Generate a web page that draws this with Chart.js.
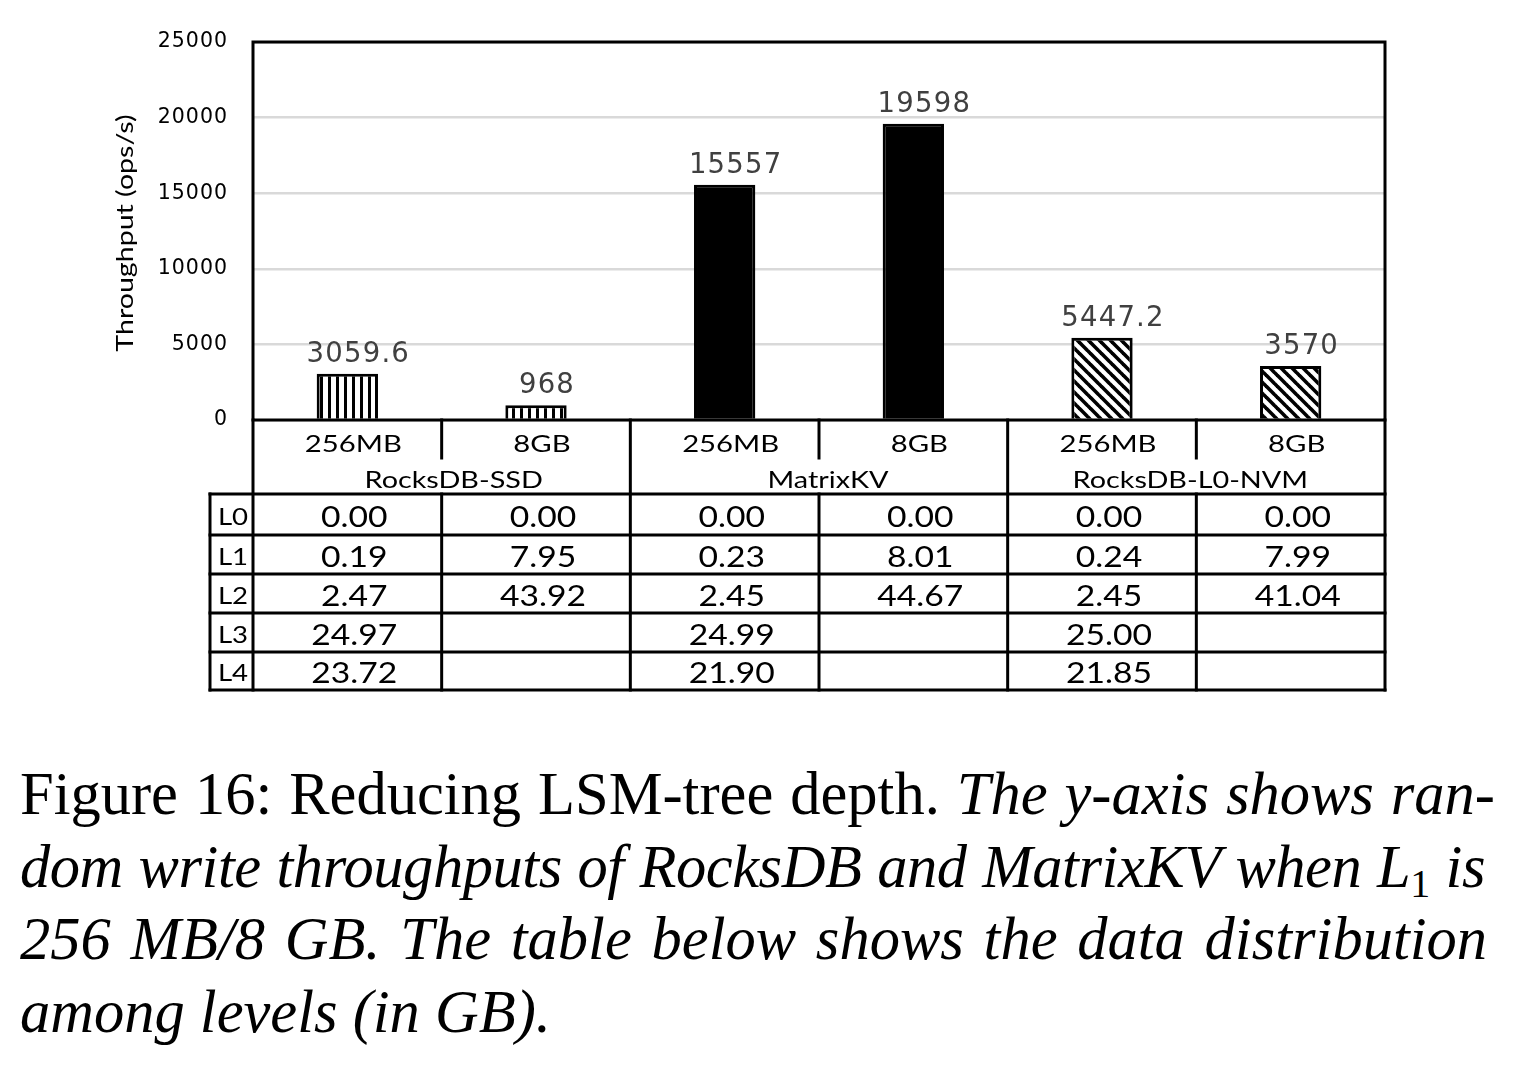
<!DOCTYPE html>
<html>
<head>
<meta charset="utf-8">
<script src="https://cdn.jsdelivr.net/npm/chart.js@4/dist/chart.umd.min.js"></script>
<style>
  html, body { margin: 0; padding: 0; background: #fff; }
  body { width: 1524px; height: 1069px; position: relative; overflow: hidden; }
  #wrap { position: absolute; left: 0; top: 0; width: 1524px; height: 720px; }
  #caption { position: absolute; left: 20px; top: 758px; width: 1475px;
    font-family: "Liberation Serif", "Times New Roman", serif; font-size: 60.5px; line-height: 72.5px; color: #000; }
  #caption .ln { text-align: justify; text-align-last: justify; white-space: nowrap; }
  #caption .ln.last { text-align-last: left; }
  #caption i { font-style: italic; }
  #caption sub { font-style: normal; font-size: 0.66em; vertical-align: -0.25em; line-height: 0; }
</style>
</head>
<body>
<div id="wrap"><canvas id="c"></canvas></div>
<div id="caption">
  <div class="ln">Figure 16: Reducing LSM-tree depth. <i>The y-axis shows ran-</i></div>
  <div class="ln" style="width:1465px; letter-spacing:-0.45px"><i>dom write throughputs of RocksDB and MatrixKV when L<sub>1</sub> is</i></div>
  <div class="ln" style="width:1467px"><i>256 MB/8 GB. The table below shows the data distribution</i></div>
  <div class="ln last"><i>among levels (in GB).</i></div>
</div>
<script>
// ---------- data ----------
const subLabels = ['256MB', '8GB', '256MB', '8GB', '256MB', '8GB'];
const groups = ['RocksDB-SSD', 'MatrixKV', 'RocksDB-L0-NVM'];
const throughput = [3059.6, 968, 15557, 19598, 5447.2, 3570];
const throughputLabels = ['3059.6', '968', '15557', '19598', '5447.2', '3570'];
const levelNames = ['L0', 'L1', 'L2', 'L3', 'L4'];
const level0 = ['0.00', '0.00', '0.00', '0.00', '0.00', '0.00'];
const level1 = ['0.19', '7.95', '0.23', '8.01', '0.24', '7.99'];
const level2 = ['2.47', '43.92', '2.45', '44.67', '2.45', '41.04'];
const level3 = ['24.97', '', '24.99', '', '25.00', ''];
const level4 = ['23.72', '', '21.90', '', '21.85', ''];
const yTicks = [0, 5000, 10000, 15000, 20000, 25000];
const yTitle = 'Throughput (ops/s)';

const levelRows = [level0, level1, level2, level3, level4];

// ---------- patterns ----------
function stripePattern() {
  const c = document.createElement('canvas'); c.width = 8; c.height = 8;
  const g = c.getContext('2d');
  g.fillStyle = '#fff'; g.fillRect(0, 0, 8, 8);
  g.fillStyle = '#000'; g.fillRect(0, 0, 3, 8);
  return g.createPattern(c, 'repeat');
}
function diagPattern() {
  const s = 11;
  const c = document.createElement('canvas'); c.width = s; c.height = s;
  const g = c.getContext('2d');
  g.fillStyle = '#fff'; g.fillRect(0, 0, s, s);
  g.strokeStyle = '#000'; g.lineWidth = 3.6;
  for (const o of [-s, 0, s]) {
    g.beginPath(); g.moveTo(o - 1, -1); g.lineTo(o + s + 1, s + 1); g.stroke();
  }
  return g.createPattern(c, 'repeat');
}
const ctx0 = document.getElementById('c').getContext('2d');
const pStripe = stripePattern();
const pDiag = diagPattern();
const fills = [pStripe, pStripe, '#000', '#000', pDiag, pDiag];

const TABLE_FONT = 'Lato, "Open Sans", sans-serif';
function stretchText(ctx, text, x, y, sx) {
  ctx.save();
  ctx.translate(x, y);
  ctx.scale(sx, 1);
  ctx.fillText(text, 0, 0);
  ctx.restore();
}

// ---------- plugin: labels, border, table ----------
const tablePlugin = {
  id: 'tablePlugin',
  beforeDraw(chart) {
    try { chart.ctx.letterSpacing = '1px'; } catch (e) {}
  },
  beforeDatasetsDraw(chart) {
    try { chart.ctx.letterSpacing = '0px'; } catch (e) {}
  },
  afterDatasetsDraw(chart) {
    const ctx = chart.ctx;
    const meta = chart.getDatasetMeta(0);
    ctx.save();
    ctx.fillStyle = '#404040';
    ctx.font = '27.5px "DejaVu Sans", Verdana, sans-serif';
    try { ctx.letterSpacing = '1.2px'; } catch (e) {}
    ctx.textAlign = 'center';
    ctx.textBaseline = 'alphabetic';
    meta.data.forEach((bar, i) => {
      ctx.fillText(throughputLabels[i], bar.x + 11, bar.y - 12);
    });
    try { ctx.letterSpacing = '0px'; } catch (e) {}
    ctx.restore();
  },
  afterDraw(chart) {
    const ctx = chart.ctx;
    const a = chart.chartArea;
    const xs = chart.scales.x;
    const n = subLabels.length;
    const cw = (a.right - a.left) / n;
    const bx = i => a.left + i * cw;
    const yHdr1 = a.bottom + 38;   // end of sub-divider in header
    const yRows = [494, 535, 574, 613, 652, 690];
    const xLeft = 210;
    ctx.save();
    try { ctx.letterSpacing = '0px'; } catch (e) {}
    ctx.strokeStyle = '#000';
    ctx.lineWidth = 3;
    ctx.lineCap = 'square';
    const line = (x1, y1, x2, y2) => { ctx.beginPath(); ctx.moveTo(x1, y1); ctx.lineTo(x2, y2); ctx.stroke(); };
    // chart area border
    ctx.strokeRect(a.left, a.top, a.right - a.left, a.bottom - a.top);
    // outer vertical lines down to table bottom
    line(a.left, a.bottom, a.left, yRows[5]);
    line(a.right, a.bottom, a.right, yRows[5]);
    // header dividers
    for (let i = 1; i < n; i++) {
      if (i % 2 === 1) {
        line(bx(i), a.bottom, bx(i), yHdr1);
        line(bx(i), yRows[0], bx(i), yRows[5]);
      } else {
        line(bx(i), a.bottom, bx(i), yRows[5]);
      }
    }
    // table horizontals
    yRows.forEach(y => line(xLeft, y, a.right, y));
    line(xLeft, yRows[0], xLeft, yRows[5]);

    // header texts
    ctx.fillStyle = '#000';
    ctx.textAlign = 'center';
    ctx.textBaseline = 'alphabetic';
    ctx.font = '24px ' + TABLE_FONT;
    for (let i = 0; i < n; i++) {
      stretchText(ctx, subLabels[i], xs.getPixelForValue(i) + 6, a.bottom + 31.5, 1.22);
    }
    const groupShift = [12, 9, -6];
    groups.forEach((g, j) => {
      stretchText(ctx, g, bx(2 * j) + cw + groupShift[j], a.bottom + 68, 1.2);
    });
    // row labels
    ctx.font = '24px ' + TABLE_FONT;
    levelNames.forEach((l, r) => {
      stretchText(ctx, l, 233, (yRows[r] + yRows[r + 1]) / 2 + 10, 1.15);
    });
    // values
    ctx.font = '29px ' + TABLE_FONT;
    levelRows.forEach((row, r) => {
      row.forEach((v, i) => {
        if (v) stretchText(ctx, v, xs.getPixelForValue(i) + 7, (yRows[r] + yRows[r + 1]) / 2 + 12, 1.16);
      });
    });
    // y axis title
    ctx.save();
    ctx.translate(125, 233);
    ctx.rotate(-Math.PI / 2);
    ctx.scale(1.19, 1);
    ctx.textBaseline = 'middle';
    ctx.font = '24px ' + TABLE_FONT;
    ctx.fillText(yTitle, 0, 0);
    ctx.restore();
    ctx.restore();
  }
};

new Chart(ctx0, {
  type: 'bar',
  data: {
    labels: subLabels,
    datasets: [{
      data: throughput,
      backgroundColor: fills,
      borderColor: '#000',
      borderWidth: 3,
      barPercentage: 0.325,
      categoryPercentage: 1.0
    }]
  },
  options: {
    responsive: true,
    maintainAspectRatio: false,
    animation: false,
    events: [],
    layout: { padding: { top: 42, right: 139, bottom: 300, left: 0 } },
    plugins: { legend: { display: false }, tooltip: { enabled: false }, title: { display: false } },
    scales: {
      x: { display: false, offset: true, grid: { display: false } },
      y: {
        min: yTicks[0], max: yTicks[yTicks.length - 1],
        afterFit(s) { s.width = 253; },
        afterBuildTicks(s) { s.ticks = yTicks.map(v => ({ value: v })); },
        border: { display: false },
        grid: { color: '#d9d9d9', lineWidth: 2.5, drawTicks: false },
        ticks: {
          color: '#000', padding: 25,
          font: { family: '"DejaVu Sans", Verdana, sans-serif', size: 20.5 },
          callback: v => String(v)
        }
      }
    }
  },
  plugins: [tablePlugin]
});
</script>
</body>
</html>
